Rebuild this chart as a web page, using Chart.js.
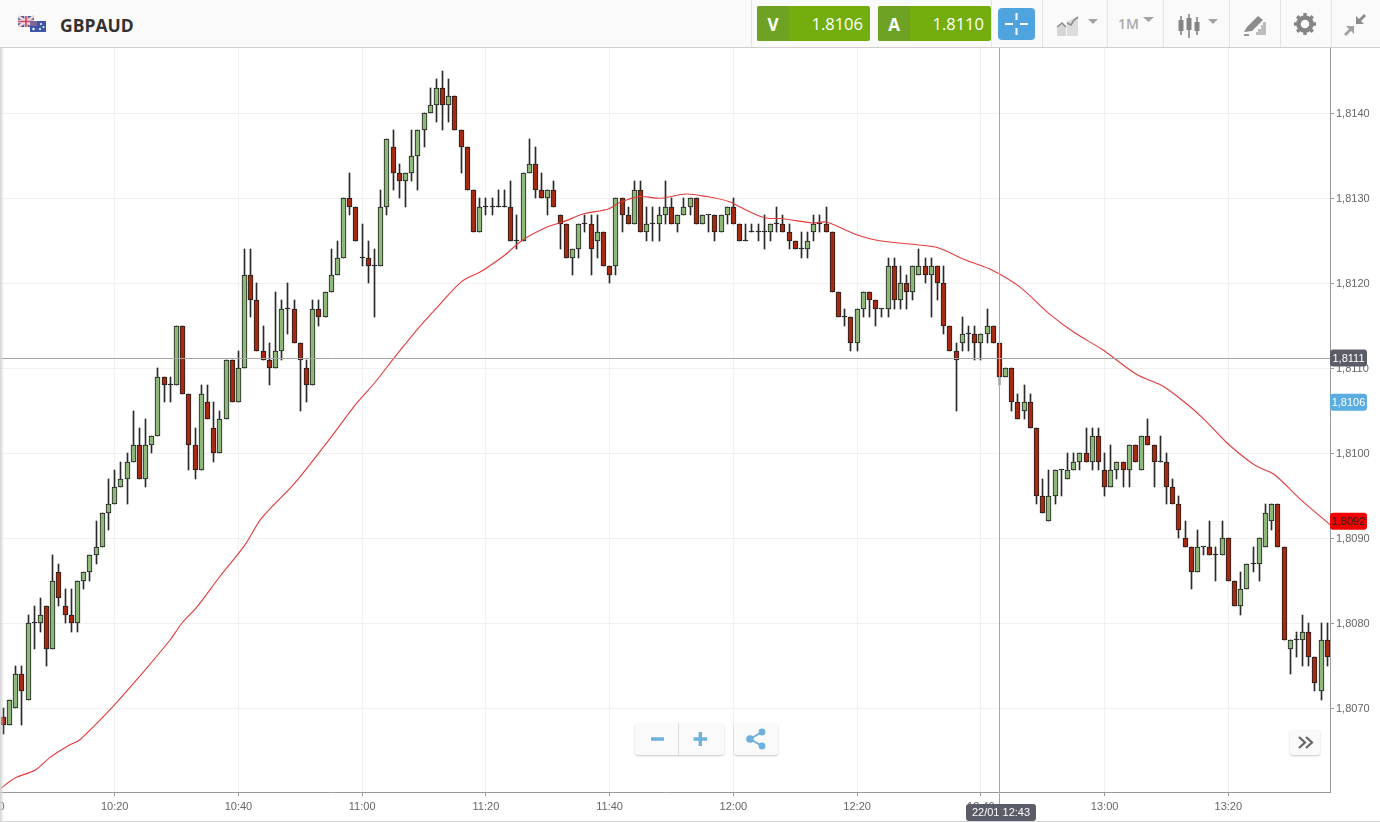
<!DOCTYPE html>
<html>
<head>
<meta charset="utf-8">
<title>GBPAUD</title>
<script src="https://cdn.jsdelivr.net/npm/chart.js@4/dist/chart.umd.min.js"></script>
<style>
html, body { margin: 0; padding: 0; background: #fff; overflow: hidden; }
#wrap { position: relative; width: 1380px; height: 822px; overflow: hidden; font-family: "Open Sans", sans-serif; }
#chart { position: absolute; left: 0; top: 0; }
#edge { position: absolute; left: 0; top: 0; width: 4px; height: 822px; background: linear-gradient(to right, #d2d2d2, rgba(255,255,255,0)); }
#bottomline { position: absolute; left: 0; top: 821px; width: 1380px; height: 1px; background: #d4d4d4; }
#header { position: absolute; left: 0; top: 0; width: 1380px; height: 47px; background: #fafafa; border-bottom: 1px solid #cfcfcf; }
#symbol { position: absolute; left: 60px; top: 13px; font-size: 17.5px; line-height: 24px; font-weight: 700; color: #333; }
.sep { position: absolute; top: 0; width: 1px; height: 47px; background: #e4e4e4; }
.quote { position: absolute; top: 6px; width: 113px; height: 35px; border-radius: 2px; background: #73ae0e; color: #fff; }
.quote b { position: absolute; left: 0; top: 0; width: 32px; height: 35px; line-height: 37px; text-align: center; font-size: 17px; background: #6ea224; border-radius: 2px 0 0 2px; }
.quote span { position: absolute; right: 7px; top: 0; line-height: 35px; font-size: 16.500px; font-weight: 500; }
#cross { position: absolute; left: 998px; top: 8px; width: 37px; height: 32px; background: #4fa3df; border-radius: 4px; }
#oneM { position: absolute; left: 1118px; top: 12px; line-height: 24px; font-size: 14px; font-weight: 600; color: #a9a9a9; }
.icon { position: absolute; }
.btn { position: absolute; background: #fafafa; border-radius: 3px; box-shadow: 0 1px 2px rgba(0,0,0,.22); }
</style>
</head>
<body>
<div id="wrap">
  <canvas id="chart" width="1380" height="822"></canvas>
  <div id="edge"></div>
  <div id="bottomline"></div>
  <div id="header">
    <svg class="icon" style="left:18px;top:15px" width="30" height="18" viewBox="0 0 30 18">
      <rect x="0" y="1" width="16" height="11" fill="#4b5c9c"/>
      <path d="M0 1L16 12M16 1L0 12" stroke="#f0d6d6" stroke-width="2.4"/>
      <path d="M8 1V12M0 6.5H16" stroke="#f3e3e3" stroke-width="3.4"/>
      <path d="M8 1V12M0 6.5H16" stroke="#c8405a" stroke-width="1.6"/>
      <rect x="12" y="6" width="16" height="11" fill="#3f55a8"/>
      <rect x="12" y="6" width="7" height="5" fill="#7c6a94"/>
      <circle cx="23" cy="9" r="1" fill="#fff"/><circle cx="25.5" cy="12" r="1" fill="#fff"/><circle cx="22" cy="14" r="1" fill="#fff"/><circle cx="15.5" cy="14" r="1.2" fill="#fff"/>
    </svg>
    <div id="symbol">GBPAUD</div>
    <div class="sep" style="left:751px"></div>
    <div class="quote" style="left:757px"><b>V</b><span>1.8106</span></div>
    <div class="quote" style="left:878px"><b>A</b><span>1.8110</span></div>
    <div class="sep" style="left:991px"></div>
    <div id="cross">
      <svg width="37" height="32" viewBox="0 0 37 32"><path d="M18.5 5V12M18.5 20V27M7 16H15M22 16H30" stroke="#fff" stroke-width="2"/></svg>
    </div>
    <div class="sep" style="left:1042px"></div>
    <svg class="icon" style="left:1056px;top:14px" width="44" height="24" viewBox="0 0 44 24">
      <path d="M1 22V13L6 9L10 13V22Z" fill="#d6d6d6"/><path d="M11 22V7L22 3V22Z" fill="#dcdcdc"/>
      <path d="M1 13L6 9L10 13M11 9L15 11L18 6L22 3" stroke="#8d8d8d" stroke-width="1.6" fill="none"/>
      <path d="M32 5H42L37 10Z" fill="#a2a2a2"/>
    </svg>
    <div class="sep" style="left:1107px"></div>
    <div id="oneM">1M</div>
    <svg class="icon" style="left:1142px;top:16px" width="14" height="8" viewBox="0 0 14 8"><path d="M1 1H12L6.5 6Z" fill="#a2a2a2"/></svg>
    <div class="sep" style="left:1163px"></div>
    <svg class="icon" style="left:1178px;top:13px" width="44" height="26" viewBox="0 0 44 26">
      <path d="M3 3V22M11 1V25M19 4V22" stroke="#7d7d7d" stroke-width="1.5"/>
      <rect x="0.5" y="7" width="5" height="11" fill="#858585"/><rect x="8.5" y="5" width="5" height="12" fill="#858585"/><rect x="16.5" y="9" width="5" height="9" fill="#858585"/>
      <path d="M30 6H40L35 11Z" fill="#a2a2a2"/>
    </svg>
    <div class="sep" style="left:1229px"></div>
    <svg class="icon" style="left:1243px;top:13px" width="24" height="24" viewBox="0 0 24 24">
      <path d="M1 19L4 14L15 3L20 7L9 18Z" fill="#8c8c8c"/><path d="M10 22H13V19H15V16H18V12H20V9H23V22Z" fill="#bdbdbd"/><path d="M1 22H6" stroke="#9a9a9a" stroke-width="2"/>
    </svg>
    <div class="sep" style="left:1280px"></div>
    <svg class="icon" style="left:1293px;top:12px" width="24" height="24" viewBox="0 0 24 24">
      <circle cx="12" cy="12" r="6.5" fill="none" stroke="#858585" stroke-width="4.5"/>
      <path d="M12 1V5M12 19V23M1 12H5M19 12H23M4.2 4.2L7 7M17 17L19.8 19.8M19.8 4.2L17 7M7 17L4.2 19.8" stroke="#858585" stroke-width="3.4"/>
    </svg>
    <div class="sep" style="left:1331px"></div>
    <svg class="icon" style="left:1343px;top:13px" width="24" height="24" viewBox="0 0 24 24">
      <path d="M13 11V3L16 6L21 1L23 3L18 8L21 11Z" fill="#8c8c8c"/><path d="M11 13V21L8 18L3 23L1 21L6 16L3 13Z" fill="#a2a2a2"/>
    </svg>
  </div>
  <div class="btn" style="left:635px;top:723px;width:89px;height:32px">
    <svg width="89" height="32" viewBox="0 0 89 32">
      <path d="M43.5 0V32" stroke="#dedede"/>
      <path d="M16 16H29M58.500 16H72M65.300 9V23" stroke="#6db1dc" stroke-width="3.400" fill="none"/>
    </svg>
  </div>
  <div class="btn" style="left:734px;top:723px;width:44px;height:32px">
    <svg width="44" height="32" viewBox="0 0 44 32">
      <path d="M28 9L16 16L28 23" stroke="#6db1dc" stroke-width="2" fill="none"/>
      <circle cx="28" cy="9" r="3.400" fill="#6db1dc"/><circle cx="16" cy="16" r="3.800" fill="#6db1dc"/><circle cx="28" cy="23" r="3.400" fill="#6db1dc"/>
    </svg>
  </div>
  <div class="btn" style="left:1290px;top:730px;width:30px;height:25px">
    <svg width="30" height="25" viewBox="0 0 30 25"><path d="M9 7L15 12.500L9 18M16 7L22 12.500L16 18" stroke="#666" stroke-width="2.200" fill="none"/></svg>
  </div>
</div>
<script>
// one candle per minute, first one is 10:02
var firstMinute = 2;
var opens = [
  1.8069,1.8068,1.8070,1.8074,1.8071,1.8080,1.8080,1.8082,1.8077,1.8086,
  1.8082,1.8081,1.8080,1.8085,1.8086,1.8088,1.8089,1.8093,1.8094,1.8096,
  1.8097,1.8099,1.8101,1.8097,1.8101,1.8102,1.8109,1.8108,1.8108,1.8115,
  1.8107,1.8101,1.8098,1.8106,1.8103,1.8100,1.8104,1.8111,1.8106,1.8110,
  1.8121,1.8118,1.8112,1.8111,1.8110,1.8112,1.8117,1.8117,1.8113,1.8110,
  1.8108,1.8117,1.8116,1.8119,1.8121,1.8123,1.8130,1.8129,1.8123,1.8123,
  1.8122,1.8122,1.8129,1.8136,1.8133,1.8132,1.8133,1.8135,1.8138,1.8140,
  1.8141,1.8143,1.8141,1.8142,1.8138,1.8136,1.8131,1.8126,1.8129,1.8129,
  1.8129,1.8129,1.8129,1.8125,1.8125,1.8133,1.8134,1.8131,1.8130,1.8131,
  1.8128,1.8127,1.8123,1.8124,1.8127,1.8127,1.8125,1.8126,1.8122,1.8122,
  1.8130,1.8128,1.8127,1.8131,1.8126,1.8127,1.8127,1.8128,1.8129,1.8127,
  1.8128,1.8129,1.8130,1.8127,1.8128,1.8128,1.8126,1.8128,1.8129,1.8127,
  1.8125,1.8126,1.8126,1.8126,1.8126,1.8127,1.8127,1.8126,1.8125,1.8124,
  1.8124,1.8126,1.8127,1.8127,1.8126,1.8119,1.8116,1.8116,1.8113,1.8117,
  1.8119,1.8118,1.8117,1.8117,1.8122,1.8118,1.8120,1.8119,1.8121,1.8122,
  1.8121,1.8122,1.8120,1.8115,1.8112,1.8113,1.8114,1.8114,1.8113,1.8114,
  1.8115,1.8113,1.8109,1.8110,1.8106,1.8105,1.8106,1.8103,1.8095,1.8092,
  1.8095,1.8098,1.8097,1.8098,1.8099,1.8100,1.8099,1.8102,1.8098,1.8096,
  1.8098,1.8099,1.8098,1.8101,1.8098,1.8102,1.8101,1.8099,1.8099,1.8096,
  1.8094,1.8090,1.8089,1.8086,1.8089,1.8089,1.8088,1.8088,1.8090,1.8085,
  1.8082,1.8084,1.8087,1.8087,1.8089,1.8092,1.8094,1.8089,1.8077,1.8078,
  1.8078,1.8079,1.8076,1.8072,1.8078
];
var highs = [
  1.8070,1.8071,1.8075,1.8075,1.8081,1.8082,1.8083,1.8082,1.8088,1.8087,
  1.8084,1.8084,1.8085,1.8086,1.8088,1.8092,1.8093,1.8097,1.8098,1.8099,
  1.8100,1.8105,1.8103,1.8104,1.8102,1.8110,1.8109,1.8109,1.8115,1.8115,
  1.8107,1.8103,1.8108,1.8108,1.8106,1.8105,1.8111,1.8111,1.8112,1.8124,
  1.8124,1.8120,1.8115,1.8113,1.8119,1.8118,1.8120,1.8118,1.8113,1.8111,
  1.8118,1.8118,1.8119,1.8124,1.8125,1.8130,1.8133,1.8129,1.8127,1.8125,
  1.8124,1.8131,1.8137,1.8138,1.8134,1.8133,1.8138,1.8138,1.8140,1.8143,
  1.8144,1.8145,1.8144,1.8142,1.8138,1.8136,1.8131,1.8130,1.8130,1.8130,
  1.8131,1.8131,1.8132,1.8128,1.8133,1.8137,1.8136,1.8133,1.8131,1.8132,
  1.8128,1.8127,1.8124,1.8127,1.8128,1.8128,1.8128,1.8126,1.8122,1.8130,
  1.8130,1.8129,1.8132,1.8132,1.8129,1.8129,1.8129,1.8132,1.8130,1.8128,
  1.8130,1.8130,1.8130,1.8128,1.8128,1.8128,1.8128,1.8129,1.8130,1.8127,
  1.8127,1.8127,1.8127,1.8128,1.8127,1.8129,1.8128,1.8127,1.8125,1.8126,
  1.8126,1.8128,1.8128,1.8129,1.8126,1.8119,1.8117,1.8116,1.8117,1.8119,
  1.8119,1.8118,1.8117,1.8123,1.8123,1.8122,1.8121,1.8122,1.8124,1.8123,
  1.8123,1.8122,1.8122,1.8115,1.8113,1.8116,1.8115,1.8115,1.8114,1.8117,
  1.8115,1.8113,1.8110,1.8110,1.8107,1.8108,1.8107,1.8103,1.8097,1.8098,
  1.8098,1.8098,1.8100,1.8100,1.8100,1.8103,1.8103,1.8103,1.8100,1.8101,
  1.8099,1.8099,1.8101,1.8101,1.8102,1.8104,1.8101,1.8102,1.8100,1.8097,
  1.8095,1.8092,1.8089,1.8091,1.8089,1.8092,1.8089,1.8092,1.8090,1.8085,
  1.8086,1.8087,1.8089,1.8090,1.8094,1.8094,1.8094,1.8089,1.8078,1.8079,
  1.8081,1.8080,1.8076,1.8080,1.8080
];
var lows = [
  1.8067,1.8068,1.8070,1.8068,1.8071,1.8077,1.8079,1.8075,1.8077,1.8082,
  1.8080,1.8079,1.8079,1.8084,1.8085,1.8087,1.8089,1.8091,1.8094,1.8096,
  1.8094,1.8099,1.8097,1.8096,1.8100,1.8102,1.8106,1.8106,1.8108,1.8107,
  1.8098,1.8097,1.8098,1.8104,1.8099,1.8100,1.8104,1.8106,1.8106,1.8110,
  1.8116,1.8112,1.8111,1.8108,1.8110,1.8111,1.8114,1.8113,1.8105,1.8106,
  1.8108,1.8115,1.8116,1.8119,1.8121,1.8123,1.8128,1.8125,1.8122,1.8120,
  1.8116,1.8122,1.8128,1.8131,1.8130,1.8129,1.8132,1.8131,1.8136,1.8140,
  1.8139,1.8138,1.8139,1.8138,1.8133,1.8131,1.8126,1.8126,1.8128,1.8128,
  1.8129,1.8129,1.8125,1.8124,1.8125,1.8133,1.8130,1.8130,1.8128,1.8129,
  1.8124,1.8123,1.8121,1.8123,1.8126,1.8121,1.8123,1.8122,1.8120,1.8121,
  1.8126,1.8127,1.8127,1.8126,1.8125,1.8125,1.8125,1.8127,1.8127,1.8126,
  1.8128,1.8128,1.8127,1.8127,1.8126,1.8125,1.8126,1.8127,1.8127,1.8125,
  1.8125,1.8126,1.8125,1.8124,1.8125,1.8126,1.8126,1.8124,1.8124,1.8123,
  1.8123,1.8125,1.8126,1.8126,1.8119,1.8116,1.8115,1.8112,1.8112,1.8116,
  1.8116,1.8115,1.8116,1.8116,1.8117,1.8117,1.8117,1.8118,1.8121,1.8120,
  1.8116,1.8118,1.8114,1.8112,1.8105,1.8112,1.8112,1.8111,1.8111,1.8113,
  1.8113,1.8108,1.8109,1.8105,1.8104,1.8104,1.8103,1.8094,1.8093,1.8092,
  1.8094,1.8095,1.8097,1.8098,1.8098,1.8099,1.8098,1.8098,1.8095,1.8096,
  1.8097,1.8096,1.8096,1.8099,1.8098,1.8101,1.8096,1.8099,1.8094,1.8094,
  1.8090,1.8089,1.8084,1.8086,1.8088,1.8088,1.8085,1.8088,1.8085,1.8082,
  1.8081,1.8084,1.8086,1.8085,1.8089,1.8091,1.8089,1.8078,1.8074,1.8076,
  1.8075,1.8075,1.8072,1.8071,1.8075
];
var closes = [
  1.8068,1.8071,1.8074,1.8072,1.8080,1.8080,1.8081,1.8077,1.8085,1.8083,
  1.8081,1.8080,1.8085,1.8086,1.8088,1.8089,1.8093,1.8094,1.8096,1.8097,
  1.8099,1.8101,1.8097,1.8101,1.8102,1.8109,1.8108,1.8108,1.8115,1.8107,
  1.8101,1.8098,1.8107,1.8104,1.8100,1.8104,1.8111,1.8106,1.8110,1.8121,
  1.8118,1.8112,1.8111,1.8110,1.8112,1.8117,1.8117,1.8113,1.8111,1.8108,
  1.8117,1.8116,1.8119,1.8121,1.8123,1.8130,1.8129,1.8125,1.8123,1.8122,
  1.8122,1.8129,1.8137,1.8133,1.8132,1.8133,1.8135,1.8138,1.8140,1.8141,
  1.8143,1.8141,1.8142,1.8138,1.8136,1.8131,1.8126,1.8129,1.8129,1.8129,
  1.8129,1.8129,1.8125,1.8125,1.8133,1.8134,1.8131,1.8130,1.8131,1.8129,
  1.8127,1.8123,1.8124,1.8127,1.8127,1.8124,1.8126,1.8122,1.8121,1.8130,
  1.8128,1.8127,1.8131,1.8126,1.8127,1.8127,1.8128,1.8129,1.8127,1.8128,
  1.8129,1.8130,1.8127,1.8128,1.8128,1.8126,1.8128,1.8129,1.8127,1.8125,
  1.8125,1.8126,1.8126,1.8126,1.8127,1.8127,1.8126,1.8125,1.8124,1.8124,
  1.8125,1.8127,1.8127,1.8126,1.8119,1.8116,1.8116,1.8113,1.8117,1.8119,
  1.8118,1.8117,1.8117,1.8122,1.8118,1.8120,1.8119,1.8122,1.8122,1.8121,
  1.8122,1.8120,1.8115,1.8112,1.8111,1.8114,1.8114,1.8113,1.8114,1.8115,
  1.8113,1.8109,1.8110,1.8106,1.8104,1.8106,1.8103,1.8095,1.8093,1.8095,
  1.8098,1.8098,1.8098,1.8099,1.8100,1.8099,1.8102,1.8099,1.8096,1.8098,
  1.8099,1.8098,1.8101,1.8099,1.8102,1.8101,1.8099,1.8099,1.8096,1.8094,
  1.8091,1.8089,1.8086,1.8089,1.8089,1.8088,1.8088,1.8090,1.8085,1.8082,
  1.8084,1.8087,1.8087,1.8090,1.8093,1.8094,1.8089,1.8078,1.8078,1.8078,
  1.8079,1.8076,1.8073,1.8078,1.8076
];

// red moving average (minutes after 10:00, price)
var maMinutes = [
  1.47,3.88,7.11,9.53,12.76,14.37,19.71,24.56,28.92,30.86,33.28,37.0,41.03,43.78,49.11,54.76,
  59.12,62.03,65.58,69.3,72.53,76.08,78.99,80.12,83.03,85.94,89.82,92.4,95.96,99.67,101.61,104.84,
  108.07,112.43,115.67,119.38,121.0,125.03,127.94,132.79,135.05,139.9,143.61,150.07,152.98,157.67,
  161.38,166.23,171.07,175.11,179.64,185.13,189.17,192.08,195.79,199.67,202.58,204.52,207.43,211.47,216.43
];
var maValues = [
  1.80605,1.80618,1.80627,1.80642,1.80657,1.80663,1.80702,1.80742,1.80780,1.80800,1.80819,1.80855,1.80892,1.80924,1.80965,1.81017,
  1.81059,1.81083,1.81116,1.81149,1.81175,1.81202,1.81213,1.81218,1.81233,1.81251,1.81266,1.81272,1.81282,1.81287,1.81295,1.81302,
  1.81300,1.81305,1.81302,1.81296,1.81290,1.81277,1.81276,1.81271,1.81272,1.81257,1.81250,1.81245,1.81242,1.81227,
  1.81217,1.81196,1.81164,1.81142,1.81122,1.81093,1.81080,1.81065,1.81042,1.81013,1.80995,1.80985,1.80975,1.80947,1.80916
];

var xTickMinutes = [0,20,40,60,80,100,120,140,160,180,200];
var xTickLabels = ["10:00","10:20","10:40","11:00","11:20","11:40","12:00","12:20","12:40","13:00","13:20"];
var yTickValues = [1.807,1.808,1.809,1.81,1.811,1.812,1.813,1.814];

var crossMinute = 163;
var crossPrice = 1.81112;
var crossTime = "22/01 12:43";
var bidPrice = 1.8106;
var maLastPrice = 1.8092;

function priceLabel(v) {
  return v.toFixed(4).replace(".", ",");
}

var wickData = [], bodyData = [], bodyColors = [], maData = [];
for (var i = 0; i < opens.length; i++) {
  wickData.push({ x: firstMinute + i, y: [lows[i], highs[i]] });
  bodyData.push({ x: firstMinute + i, y: [opens[i], closes[i]] });
  if (closes[i] > opens[i]) bodyColors.push("#8db87a");
  else if (closes[i] < opens[i]) bodyColors.push("#a42b12");
  else bodyColors.push("#222");
}
for (var j = 0; j < maMinutes.length; j++) {
  maData.push({ x: maMinutes[j], y: maValues[j] });
}

function roundedTag(ctx, x, y, w, h, color, textColor, text) {
  ctx.fillStyle = color;
  ctx.beginPath();
  ctx.roundRect(x, y, w, h, 3);
  ctx.fill();
  ctx.fillStyle = textColor;
  ctx.font = "11px 'Liberation Sans'";
  ctx.textAlign = "center";
  ctx.textBaseline = "middle";
  ctx.fillText(text, x + w / 2, y + h / 2 + 0.5);
}

// the candles look crisp in the original, so snap the bars to whole pixels
var snapPlugin = {
  id: "snap",
  beforeDatasetsDraw: function(chart) {
    chart.getSortedVisibleDatasetMetas().forEach(function(meta) {
      if (meta.type !== "bar") return;
      meta.data.forEach(function(bar) {
        bar.x = Math.floor(bar.x) + 0.5;
        var top = Math.round(Math.min(bar.y, bar.base));
        var bottom = Math.round(Math.max(bar.y, bar.base));
        if (bottom - top < 1) bottom = top + 1;
        bar.y = top;
        bar.base = bottom;
        bar.height = bottom - top;
      });
    });
  }
};

// crosshair and the price / time tags on the axes
var overlayPlugin = {
  id: "overlay",
  afterDraw: function(chart) {
    var ctx = chart.ctx;
    var xs = chart.scales.x, ys = chart.scales.y;
    var cx = Math.floor(xs.getPixelForValue(crossMinute)) + 0.5;
    var cy = Math.round(ys.getPixelForValue(crossPrice)) + 0.5;
    ctx.save();
    ctx.strokeStyle = "#a6a6a6";
    ctx.lineWidth = 1;
    ctx.beginPath();
    ctx.moveTo(cx, chart.chartArea.top);
    ctx.lineTo(cx, 806);
    ctx.moveTo(0, cy);
    ctx.lineTo(chart.chartArea.right, cy);
    ctx.stroke();
    var right = chart.chartArea.right;
    roundedTag(ctx, right, ys.getPixelForValue(crossPrice) - 8.5, 37, 17, "#5a5c68", "#fff", priceLabel(crossPrice));
    roundedTag(ctx, right, ys.getPixelForValue(bidPrice) - 8.5, 37, 17, "#5aade0", "#fff", priceLabel(bidPrice));
    roundedTag(ctx, right, ys.getPixelForValue(maLastPrice) - 8.5, 37, 17, "#f50000", "#222", priceLabel(maLastPrice));
    roundedTag(ctx, cx - 33.5, 804, 70, 17, "#5a5c68", "#fff", crossTime);
    ctx.restore();
  }
};

Chart.defaults.font.family = "'Liberation Sans'";
Chart.defaults.font.size = 11;
Chart.defaults.color = "#666";

new Chart(document.getElementById("chart"), {
  type: "bar",
  data: {
    datasets: [
      { type: "line", data: maData, borderColor: "#e23b3b", borderWidth: 1.1, pointRadius: 0, tension: 0.3, order: 0 },
      { type: "bar", data: bodyData, grouped: false, barThickness: 5, minBarLength: 1, backgroundColor: bodyColors, borderColor: "#1e1e1e", borderWidth: 1, borderSkipped: false, order: 1 },
      { type: "bar", data: wickData, grouped: false, barThickness: 1, backgroundColor: "#2a2a2a", borderWidth: 0, order: 2 }
    ]
  },
  options: {
    responsive: false,
    animation: false,
    events: [],
    layout: { padding: { top: 48, left: 0, right: 0, bottom: 0 } },
    plugins: { legend: { display: false }, tooltip: { enabled: false } },
    scales: {
      x: {
        type: "linear",
        offset: false,
        min: 1.467,
        max: 216.43,
        grid: { offset: false, color: "#f1f1f1", tickColor: "#999", tickLength: 4 },
        border: { color: "#999" },
        afterBuildTicks: function(axis) {
          axis.ticks = xTickMinutes.map(function(m) { return { value: m }; });
        },
        afterFit: function(axis) {
          axis.height = 30;
          axis.paddingLeft = 0;
          axis.paddingRight = 0;
        },
        ticks: {
          autoSkip: false,
          maxRotation: 0,
          padding: 4,
          callback: function(value) {
            return xTickLabels[xTickMinutes.indexOf(value)];
          }
        }
      },
      y: {
        position: "right",
        min: 1.806015,
        max: 1.814768,
        grid: { color: "#f1f1f1", tickColor: "#999", tickLength: 4 },
        border: { color: "#999" },
        afterBuildTicks: function(axis) {
          axis.ticks = yTickValues.map(function(v) { return { value: v }; });
        },
        afterFit: function(axis) {
          axis.width = 50;
          axis.paddingTop = 0;
          axis.paddingBottom = 0;
        },
        ticks: {
          padding: 2,
          labelOffset: 1,
          callback: function(value) {
            return priceLabel(value);
          }
        }
      }
    }
  },
  plugins: [snapPlugin, overlayPlugin]
});
</script>
</body>
</html>
